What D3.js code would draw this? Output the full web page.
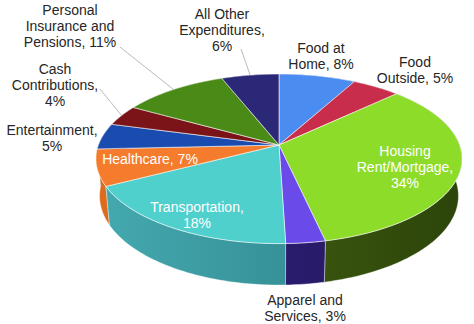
<!DOCTYPE html>
<html>
<head>
<meta charset="utf-8">
<script src="https://cdn.jsdelivr.net/npm/d3@7"></script>
<style>
  html, body { margin: 0; padding: 0; background: #fff; }
  svg { display: block; }
  text { font-family: "Liberation Sans", Arial, sans-serif; font-size: 14px; }
</style>
</head>
<body>
<svg id="chart" width="474" height="324"></svg>
<script>
// Household spending shares (percent), clockwise from 12 o'clock
const categories = [
  "Food at Home", "Food Outside", "Housing Rent/Mortgage", "Apparel and Services",
  "Transportation", "Healthcare", "Entertainment", "Cash Contributions",
  "Personal Insurance and Pensions", "All Other Expenditures"
];
const shares = [8, 5, 34, 3, 18, 7, 5, 4, 11, 6];

// Label text, one entry per line
const labelLines = [
  ["Food at", "Home, 8%"],
  ["Food", "Outside, 5%"],
  ["Housing", "Rent/Mortgage,", "34%"],
  ["Apparel and", "Services, 3%"],
  ["Transportation,", "18%"],
  ["Healthcare, 7%"],
  ["Entertainment,", "5%"],
  ["Cash", "Contributions,", "4%"],
  ["Personal", "Insurance and", "Pensions, 11%"],
  ["All Other", "Expenditures,", "6%"]
];

// Styling
const topColors = ["#4a8cf0", "#c82e4c", "#8edc2a", "#6a4ae8", "#50d0cc",
                   "#f47c2c", "#1a4cb0", "#7a1418", "#4a8a16", "#2c2878"];
const sideColors = [["#3468b8", "#24508c"], ["#962236", "#701828"], ["#4c6c14", "#2c440a"],
                    ["#30207a", "#241860"], ["#44aab0", "#2a7a82"], ["#dc6c1e", "#c05c18"],
                    ["#143a88", "#0e2c68"], ["#5c0e12", "#440a0c"], ["#386812", "#284c0c"],
                    ["#222060", "#181648"]];
const labelFill = ["#262626", "#262626", "#fff", "#262626", "#fff", "#fff",
                   "#262626", "#262626", "#262626", "#262626"];
// Label anchor (x, first baseline) and optional leader start point
const labelLayout = [
  {x: 321, y: 53}, {x: 415, y: 67}, {x: 405, y: 156}, {x: 305, y: 305},
  {x: 197, y: 212}, {x: 150, y: 164}, {x: 52, y: 135}, {x: 55, y: 74, lead: [100, 89]},
  {x: 70, y: 15, lead: [120, 47]}, {x: 222, y: 19, lead: [241, 49]}
];

// Perspective view of a unit disk
const view = {cx: 279, cy: 145, f: 986, D: 5.46, phi: Math.asin(0.457), h: 0.233};
const sinP = Math.sin(view.phi), cosP = Math.cos(view.phi);
function project(theta, y, r) {
  const x = r * Math.sin(theta), z = -r * Math.cos(theta);
  const yc = y * cosP - z * sinP;
  const zc = y * sinP + z * cosP;
  const d = view.D - zc;
  return [view.cx + view.f * x / d, view.cy - view.f * yc / d];
}
function arcPoints(a0, a1, y) {
  const n = Math.max(2, Math.ceil((a1 - a0) / (Math.PI / 180)));
  return d3.range(n + 1).map(i => project(a0 + (a1 - a0) * i / n, y, 1));
}

const pie = d3.pie().sort(null).value(d => d)(shares);
const svg = d3.select("#chart");
const defs = svg.append("defs");
const line = d3.line();

// Side walls: horizontal shading across the pie width
const x0 = view.cx - 184, x1 = view.cx + 184;
pie.forEach((s, i) => {
  const g = defs.append("linearGradient")
    .attr("id", "side" + i).attr("gradientUnits", "userSpaceOnUse")
    .attr("x1", x0).attr("x2", x1).attr("y1", 0).attr("y2", 0);
  g.append("stop").attr("offset", 0).attr("stop-color", sideColors[i][0]);
  g.append("stop").attr("offset", 1).attr("stop-color", sideColors[i][1]);
});

const walls = pie.map((s, i) => ({s, i, depth: -Math.cos((s.startAngle + s.endAngle) / 2)}))
  .sort((a, b) => a.depth - b.depth);
svg.append("g").selectAll("path").data(walls).join("path")
  .attr("d", w => {
    const top = arcPoints(w.s.startAngle, w.s.endAngle, 0);
    const bot = arcPoints(w.s.startAngle, w.s.endAngle, -view.h).reverse();
    return line(top.concat(bot)) + "Z";
  })
  .attr("fill", w => `url(#side${w.i})`)
  .attr("stroke", "rgba(255,255,255,0.55)")
  .attr("stroke-width", 0.7)
  .attr("stroke-linejoin", "round");

// Top faces
svg.append("g").selectAll("path").data(pie).join("path")
  .attr("d", s => line([project(0, 0, 0)].concat(arcPoints(s.startAngle, s.endAngle, 0))) + "Z")
  .attr("fill", (s, i) => topColors[i])
  .attr("stroke", "rgba(255,255,255,0.7)")
  .attr("stroke-width", 0.8)
  .attr("stroke-linejoin", "round");

// Leader lines to the rim at each slice's middle angle
svg.append("g").selectAll("line").data(pie.filter((s, i) => labelLayout[i].lead)).join("line")
  .each(function(s) {
    const L = labelLayout[s.index];
    const end = project((s.startAngle + s.endAngle) / 2, 0, 1);
    d3.select(this).attr("x1", L.lead[0]).attr("y1", L.lead[1]).attr("x2", end[0]).attr("y2", end[1]);
  })
  .attr("stroke", "#a8a8a8").attr("stroke-width", 0.8);

// Labels
const labels = svg.append("g").selectAll("text").data(pie).join("text")
  .attr("text-anchor", "middle")
  .attr("fill", (s, i) => labelFill[i])
  .attr("x", (s, i) => labelLayout[i].x)
  .attr("y", (s, i) => labelLayout[i].y);
labels.each(function(s, i) {
  d3.select(this).selectAll("tspan").data(labelLines[i]).join("tspan")
    .attr("x", labelLayout[i].x)
    .attr("dy", (d, j) => j === 0 ? 0 : 16)
    .text(d => d);
});
</script>
</body>
</html>
